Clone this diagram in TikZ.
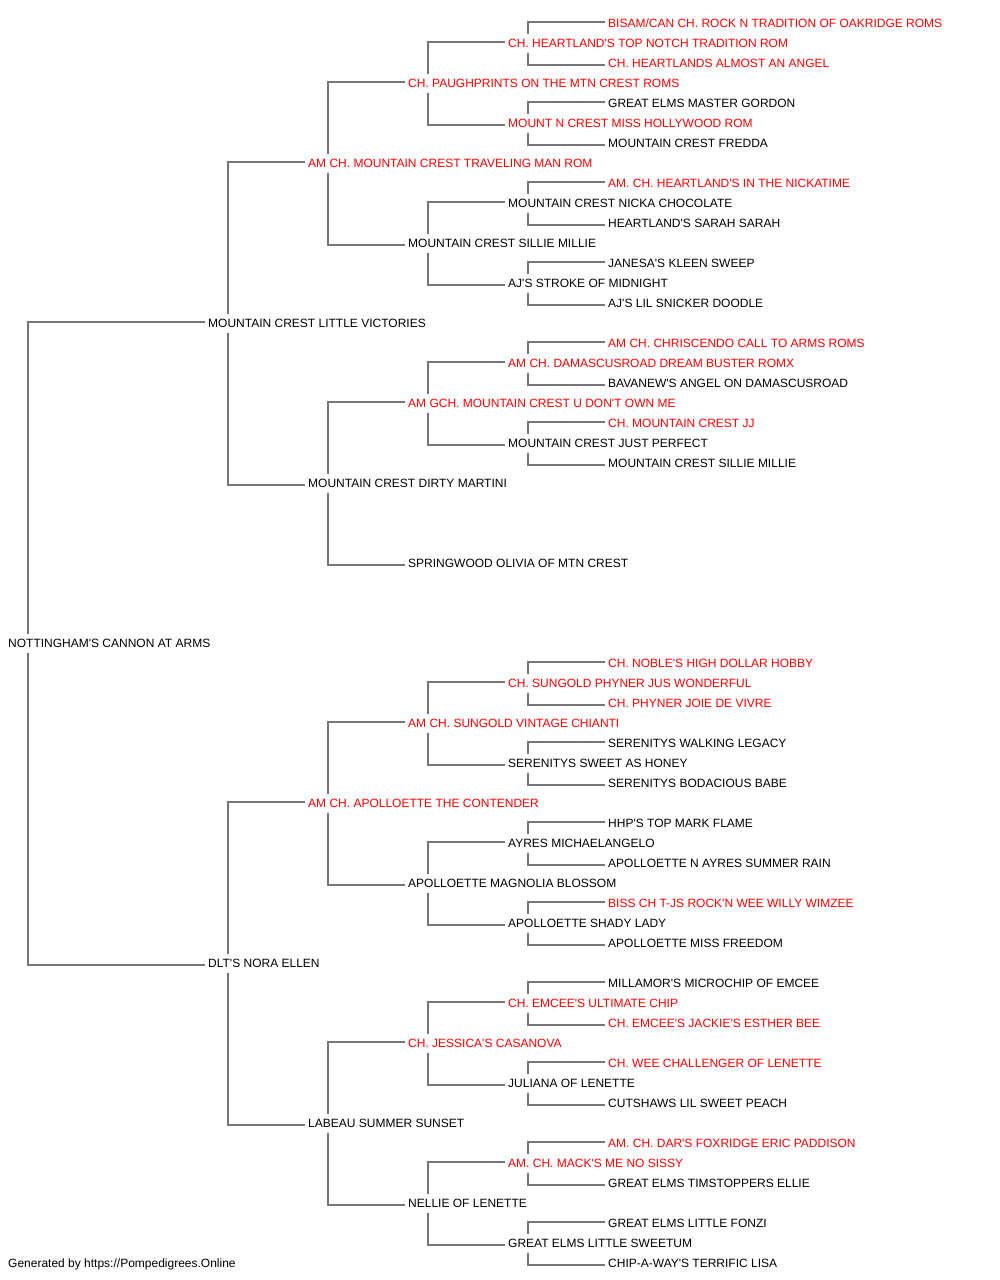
\documentclass[tikz,border=0pt]{standalone}
\usepackage{fontspec}
\setmainfont{Liberation Sans}[Ligatures=TeXOff]
\definecolor{lncol}{RGB}{118,118,118}
\definecolor{rdcol}{RGB}{255,0,0}
\newcommand\pcA[2]{\draw[ln] ([shift={(20,-9)}]#1.west) |- ([shift={(-3,-1)}]#2.west);}
\newcommand\pcB[2]{\draw[ln] ([shift={(20,10)}]#1.west) |- ([shift={(-3,2)}]#2.west);}
\begin{document}
\begin{tikzpicture}[x=1pt,y=-1pt,
  nm/.style={anchor=west,inner sep=0pt,text height=8.6pt,text depth=0pt,font=\fontsize{12}{14}\selectfont},
  bk/.style={nm,text=black},
  rd/.style={nm,text=rdcol},
  ln/.style={draw=lncol,line width=2pt}]
\useasboundingbox[fill=white] (0,0) rectangle (1000,1280);
% generation 0
\node[bk] (g0) at (8,643) {NOTTINGHAM'S CANNON AT ARMS};
% generation 1
\node[bk] (g1a) at (208,323) {MOUNTAIN CREST LITTLE VICTORIES};
\node[bk] (g1b) at (208,963) {DLT'S NORA ELLEN};
% generation 2
\node[rd] (g2a) at (308,163) {AM CH. MOUNTAIN CREST TRAVELING MAN ROM};
\node[bk] (g2b) at (308,483) {MOUNTAIN CREST DIRTY MARTINI};
\node[rd] (g2c) at (308,803) {AM CH. APOLLOETTE THE CONTENDER};
\node[bk] (g2d) at (308,1123) {LABEAU SUMMER SUNSET};
% generation 3
\node[rd] (g3a) at (408,83) {CH. PAUGHPRINTS ON THE MTN CREST ROMS};
\node[bk] (g3b) at (408,243) {MOUNTAIN CREST SILLIE MILLIE};
\node[rd] (g3c) at (408,403) {AM GCH. MOUNTAIN CREST U DON'T OWN ME};
\node[bk] (g3d) at (408,563) {SPRINGWOOD OLIVIA OF MTN CREST};
\node[rd] (g3e) at (408,723) {AM CH. SUNGOLD VINTAGE CHIANTI};
\node[bk] (g3f) at (408,883) {APOLLOETTE MAGNOLIA BLOSSOM};
\node[rd] (g3g) at (408,1043) {CH. JESSICA'S CASANOVA};
\node[bk] (g3h) at (408,1203) {NELLIE OF LENETTE};
% generation 4
\node[rd] (g4a) at (508,43) {CH. HEARTLAND'S TOP NOTCH TRADITION ROM};
\node[rd] (g4b) at (508,123) {MOUNT N CREST MISS HOLLYWOOD ROM};
\node[bk] (g4c) at (508,203) {MOUNTAIN CREST NICKA CHOCOLATE};
\node[bk] (g4d) at (508,283) {AJ'S STROKE OF MIDNIGHT};
\node[rd] (g4e) at (508,363) {AM CH. DAMASCUSROAD DREAM BUSTER ROMX};
\node[bk] (g4f) at (508,443) {MOUNTAIN CREST JUST PERFECT};
\node[rd] (g4g) at (508,683) {CH. SUNGOLD PHYNER JUS WONDERFUL};
\node[bk] (g4h) at (508,763) {SERENITYS SWEET AS HONEY};
\node[bk] (g4i) at (508,843) {AYRES MICHAELANGELO};
\node[bk] (g4j) at (508,923) {APOLLOETTE SHADY LADY};
\node[rd] (g4k) at (508,1003) {CH. EMCEE'S ULTIMATE CHIP};
\node[bk] (g4l) at (508,1083) {JULIANA OF LENETTE};
\node[rd] (g4m) at (508,1163) {AM. CH. MACK'S ME NO SISSY};
\node[bk] (g4n) at (508,1243) {GREAT ELMS LITTLE SWEETUM};
% generation 5
\node[rd] (g5a1) at (608,23) {BISAM/CAN CH. ROCK N TRADITION OF OAKRIDGE ROMS};
\node[rd] (g5a2) at (608,63) {CH. HEARTLANDS ALMOST AN ANGEL};
\node[bk] (g5b1) at (608,103) {GREAT ELMS MASTER GORDON};
\node[bk] (g5b2) at (608,143) {MOUNTAIN CREST FREDDA};
\node[rd] (g5c1) at (608,183) {AM. CH. HEARTLAND'S IN THE NICKATIME};
\node[bk] (g5c2) at (608,223) {HEARTLAND'S SARAH SARAH};
\node[bk] (g5d1) at (608,263) {JANESA'S KLEEN SWEEP};
\node[bk] (g5d2) at (608,303) {AJ'S LIL SNICKER DOODLE};
\node[rd] (g5e1) at (608,343) {AM CH. CHRISCENDO CALL TO ARMS ROMS};
\node[bk] (g5e2) at (608,383) {BAVANEW'S ANGEL ON DAMASCUSROAD};
\node[rd] (g5f1) at (608,423) {CH. MOUNTAIN CREST JJ};
\node[bk] (g5f2) at (608,463) {MOUNTAIN CREST SILLIE MILLIE};
\node[rd] (g5g1) at (608,663) {CH. NOBLE'S HIGH DOLLAR HOBBY};
\node[rd] (g5g2) at (608,703) {CH. PHYNER JOIE DE VIVRE};
\node[bk] (g5h1) at (608,743) {SERENITYS WALKING LEGACY};
\node[bk] (g5h2) at (608,783) {SERENITYS BODACIOUS BABE};
\node[bk] (g5i1) at (608,823) {HHP'S TOP MARK FLAME};
\node[bk] (g5i2) at (608,863) {APOLLOETTE N AYRES SUMMER RAIN};
\node[rd] (g5j1) at (608,903) {BISS CH T-JS ROCK'N WEE WILLY WIMZEE};
\node[bk] (g5j2) at (608,943) {APOLLOETTE MISS FREEDOM};
\node[bk] (g5k1) at (608,983) {MILLAMOR'S MICROCHIP OF EMCEE};
\node[rd] (g5k2) at (608,1023) {CH. EMCEE'S JACKIE'S ESTHER BEE};
\node[rd] (g5l1) at (608,1063) {CH. WEE CHALLENGER OF LENETTE};
\node[bk] (g5l2) at (608,1103) {CUTSHAWS LIL SWEET PEACH};
\node[rd] (g5m1) at (608,1143) {AM. CH. DAR'S FOXRIDGE ERIC PADDISON};
\node[bk] (g5m2) at (608,1183) {GREAT ELMS TIMSTOPPERS ELLIE};
\node[bk] (g5n1) at (608,1223) {GREAT ELMS LITTLE FONZI};
\node[bk] (g5n2) at (608,1263) {CHIP-A-WAY'S TERRIFIC LISA};
% footer
\node[bk] (foot) at (8,1263) {Generated by https://Pompedigrees.Online};
% connectors
\pcA{g0}{g1a} \pcB{g0}{g1b}
\pcA{g1a}{g2a} \pcB{g1a}{g2b}
\pcA{g1b}{g2c} \pcB{g1b}{g2d}
\pcA{g2a}{g3a} \pcB{g2a}{g3b}
\pcA{g2b}{g3c} \pcB{g2b}{g3d}
\pcA{g2c}{g3e} \pcB{g2c}{g3f}
\pcA{g2d}{g3g} \pcB{g2d}{g3h}
\pcA{g3a}{g4a} \pcB{g3a}{g4b}
\pcA{g3b}{g4c} \pcB{g3b}{g4d}
\pcA{g3c}{g4e} \pcB{g3c}{g4f}
\pcA{g3e}{g4g} \pcB{g3e}{g4h}
\pcA{g3f}{g4i} \pcB{g3f}{g4j}
\pcA{g3g}{g4k} \pcB{g3g}{g4l}
\pcA{g3h}{g4m} \pcB{g3h}{g4n}
\pcA{g4a}{g5a1} \pcB{g4a}{g5a2}
\pcA{g4b}{g5b1} \pcB{g4b}{g5b2}
\pcA{g4c}{g5c1} \pcB{g4c}{g5c2}
\pcA{g4d}{g5d1} \pcB{g4d}{g5d2}
\pcA{g4e}{g5e1} \pcB{g4e}{g5e2}
\pcA{g4f}{g5f1} \pcB{g4f}{g5f2}
\pcA{g4g}{g5g1} \pcB{g4g}{g5g2}
\pcA{g4h}{g5h1} \pcB{g4h}{g5h2}
\pcA{g4i}{g5i1} \pcB{g4i}{g5i2}
\pcA{g4j}{g5j1} \pcB{g4j}{g5j2}
\pcA{g4k}{g5k1} \pcB{g4k}{g5k2}
\pcA{g4l}{g5l1} \pcB{g4l}{g5l2}
\pcA{g4m}{g5m1} \pcB{g4m}{g5m2}
\pcA{g4n}{g5n1} \pcB{g4n}{g5n2}
\end{tikzpicture}
\end{document}
